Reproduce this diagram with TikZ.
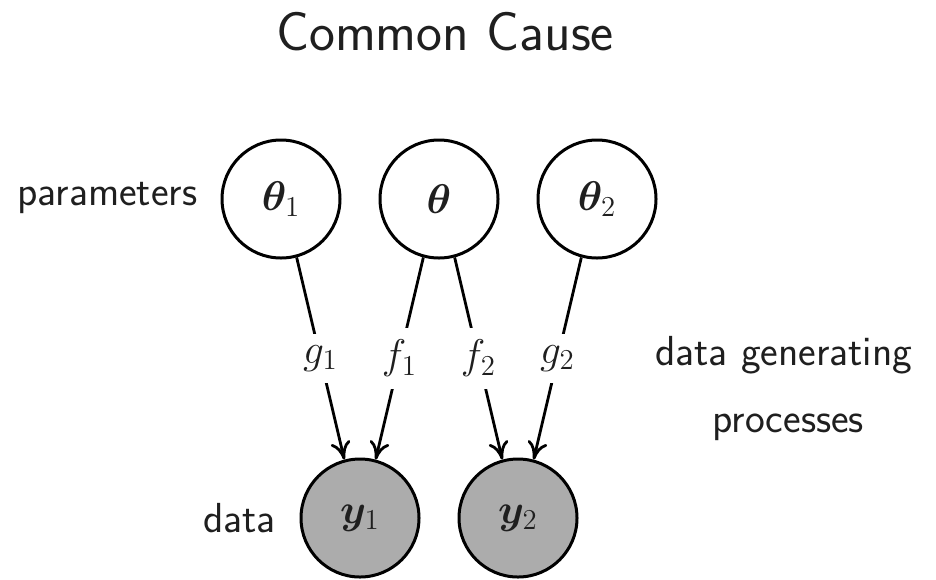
\documentclass[tikz,border=0pt]{standalone}
\usepackage{fontspec}
\usepackage{amsmath}
\usepackage{bm}
\usetikzlibrary{arrows.meta}
\begin{document}
\begin{tikzpicture}[x=0.5pt,y=-0.5pt,
  every node/.style={font=\fontsize{21}{25}\selectfont,text=black!88},
  var/.style={circle,draw=black,line width=1.5pt,minimum size=59pt,inner sep=0pt},
  obs/.style={var,fill=gray!65},
  lbl/.style={font=\sffamily\fontsize{21}{25}\selectfont,inner sep=0pt},
  proc/.style={-{To[length=9pt,width=10pt]},line width=1.4pt,draw=black},
  fn/.style={fill=white,inner sep=6pt}]
\useasboundingbox (0,0) rectangle (936,579);

% title
\node[font=\sffamily\fontsize{27.5}{32}\selectfont,inner sep=0pt,anchor=base] (title) at (445,50) {Common Cause};

% parameter nodes
\node[var] (t1) at (281,199) {$\bm{\theta}_1$};
\node[var] (t)  at (439,199) {$\bm{\theta}$};
\node[var] (t2) at (597,199) {$\bm{\theta}_2$};

% observed data nodes
\node[obs] (y1) at (360,518) {$\bm{y}_1$};
\node[obs] (y2) at (518,518) {$\bm{y}_2$};

% data generating processes
\draw[proc] (t1.285) -- node[fn] (g1) {$g_1$} (y1.105);
\draw[proc] (t.255)  -- node[fn] (f1) {$f_1$} (y1.75);
\draw[proc] (t.285)  -- node[fn] (f2) {$f_2$} (y2.105);
\draw[proc] (t2.255) -- node[fn] (g2) {$g_2$} (y2.75);

% side labels
\node[lbl,anchor=base west] (par) at (17,205) {parameters};
\node[lbl,anchor=base west] (dg)  at (655,365) {data generating};
\node[lbl,anchor=base west] (pr)  at (712,432) {processes};
\node[lbl,anchor=base west] (dat) at (203,532) {data};
\end{tikzpicture}
\end{document}
